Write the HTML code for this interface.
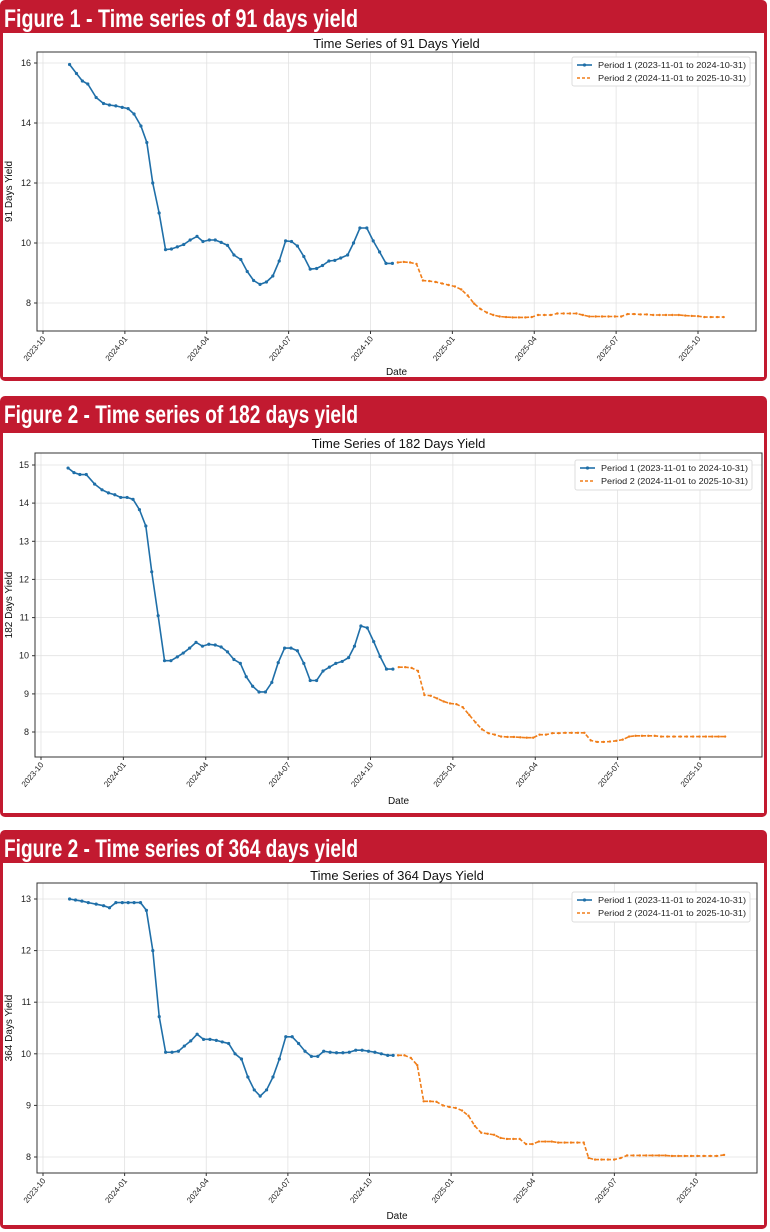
<!DOCTYPE html>
<html><head><meta charset="utf-8">
<style>
html,body{margin:0;padding:0;background:#fff;width:770px;height:1232px;overflow:hidden}
svg{display:block}
</style></head>
<body>
<svg id="s" width="770" height="1232" xmlns="http://www.w3.org/2000/svg" font-family="Liberation Sans, sans-serif"></svg>
<script>
const S=document.getElementById('s');
let out='';
const P=[
 {top:0,bot:381,band:33,head:'Figure 1 - Time series of 91 days yield',title:'Time Series of 91 Days Yield',ylab:'91 Days Yield',
  ax:{l:37,r:756,t:52,b:331},titleY:48,dateY:375,
  yt:[[16,63],[14,123],[12,183],[10,243],[8,303]],
  xt0:43,xt1:698,z0:87,z1:1418,leg:[572,57,750,86],
  p1:[[141,15.95],[155,15.65],[167,15.4],[178,15.3],[195,14.85],[210,14.65],[222,14.6],[235,14.57],[248,14.52],[260,14.48],[272,14.3],[286,13.9],[298,13.35],[310,12.0],[323,11.0],[336,9.78],[348,9.8],[360,9.87],[373,9.95],[386,10.1],[400,10.22],[412,10.05],[425,10.1],[437,10.1],[449,10.02],[462,9.92],[475,9.6],[489,9.45],[502,9.05],[515,8.75],[528,8.62],[541,8.7],[554,8.9],[567,9.4],[580,10.07],[592,10.05],[604,9.9],[617,9.55],[630,9.13],[643,9.15],[655,9.25],[668,9.4],[680,9.42],[692,9.5],[706,9.6],[718,10.0],[731,10.5],[745,10.5],[758,10.07],[771,9.7],[784,9.32],[797,9.32]],
  p2:[[808,9.35],[820,9.37],[833,9.35],[846,9.3],[859,8.75],[872,8.73],[885,8.7],[898,8.65],[911,8.6],[924,8.55],[937,8.45],[950,8.25],[963,7.98],[976,7.8],[989,7.68],[1002,7.6],[1015,7.55],[1028,7.53],[1041,7.52],[1054,7.52],[1067,7.52],[1080,7.53],[1093,7.6],[1106,7.6],[1119,7.6],[1132,7.65],[1145,7.65],[1158,7.65],[1171,7.65],[1184,7.6],[1197,7.55],[1210,7.55],[1223,7.55],[1236,7.55],[1249,7.55],[1262,7.55],[1275,7.63],[1288,7.63],[1301,7.62],[1314,7.62],[1327,7.6],[1340,7.6],[1353,7.6],[1366,7.6],[1379,7.6],[1392,7.58],[1405,7.57],[1418,7.56],[1431,7.53],[1444,7.53],[1457,7.53],[1470,7.53]]},
 {top:396,bot:817,band:433,head:'Figure 2 - Time series of 182 days yield',title:'Time Series of 182 Days Yield',ylab:'182 Days Yield',
  ax:{l:35,r:762,t:453,b:757},titleY:448,dateY:804,
  yt:[[15,465],[14,503.1],[13,541.3],[12,579.4],[11,617.6],[10,655.7],[9,693.9],[8,732]],
  xt0:41,xt1:700,z0:83,z1:1422,leg:[575,460,752,490],
  p1:[[138,14.92],[150,14.8],[162,14.75],[175,14.75],[192,14.5],[207,14.35],[220,14.27],[233,14.22],[245,14.15],[258,14.15],[270,14.1],[283,13.83],[296,13.4],[308,12.2],[321,11.05],[334,9.87],[347,9.87],[360,9.97],[372,10.07],[385,10.2],[398,10.35],[411,10.25],[424,10.3],[437,10.28],[449,10.23],[462,10.1],[475,9.9],[488,9.8],[500,9.45],[513,9.2],[526,9.05],[539,9.05],[552,9.3],[565,9.82],[578,10.2],[591,10.2],[604,10.13],[617,9.8],[630,9.35],[643,9.35],[656,9.6],[669,9.7],[682,9.8],[695,9.85],[708,9.95],[720,10.25],[733,10.78],[746,10.73],[759,10.37],[772,9.98],[785,9.65],[798,9.65]],
  p2:[[810,9.7],[823,9.7],[836,9.68],[849,9.6],[862,8.97],[875,8.95],[888,8.88],[901,8.8],[914,8.75],[927,8.73],[940,8.65],[953,8.45],[966,8.25],[979,8.07],[992,7.97],[1005,7.93],[1018,7.88],[1031,7.87],[1044,7.87],[1057,7.86],[1070,7.85],[1083,7.85],[1096,7.93],[1109,7.93],[1122,7.97],[1135,7.97],[1148,7.98],[1161,7.98],[1174,7.98],[1187,7.98],[1200,7.78],[1213,7.74],[1226,7.74],[1239,7.75],[1252,7.77],[1265,7.8],[1278,7.88],[1291,7.9],[1304,7.9],[1317,7.9],[1330,7.9],[1343,7.88],[1356,7.88],[1369,7.88],[1382,7.88],[1395,7.88],[1408,7.88],[1421,7.88],[1434,7.88],[1447,7.88],[1460,7.88],[1473,7.88]]},
 {top:830,bot:1229,band:863,head:'Figure 2 - Time series of 364 days yield',title:'Time Series of 364 Days Yield',ylab:'364 Days Yield',
  ax:{l:37,r:757,t:883,b:1173},titleY:880,dateY:1219,
  yt:[[13,899],[12,950.6],[11,1002.2],[10,1053.8],[9,1105.4],[8,1157]],
  xt0:43,xt1:696,z0:87,z1:1413,leg:[572,892,750,922],
  p1:[[141,13.0],[153,12.98],[166,12.96],[179,12.93],[195,12.9],[210,12.87],[222,12.83],[235,12.93],[248,12.93],[260,12.93],[272,12.93],[285,12.93],[297,12.78],[310,12.0],[323,10.72],[336,10.03],[349,10.03],[362,10.05],[374,10.15],[387,10.25],[400,10.38],[413,10.28],[426,10.28],[439,10.26],[451,10.23],[464,10.2],[477,10.0],[490,9.9],[503,9.55],[516,9.3],[528,9.18],[541,9.3],[554,9.55],[567,9.9],[580,10.33],[593,10.33],[606,10.2],[619,10.05],[632,9.95],[645,9.95],[657,10.05],[670,10.03],[683,10.02],[696,10.02],[709,10.03],[722,10.07],[735,10.07],[748,10.05],[761,10.03],[774,10.0],[787,9.97],[798,9.97]],
  p2:[[808,9.97],[821,9.97],[834,9.92],[847,9.78],[860,9.08],[873,9.08],[886,9.07],[899,9.0],[912,8.97],[925,8.95],[938,8.9],[951,8.8],[964,8.6],[977,8.47],[990,8.45],[1003,8.43],[1016,8.37],[1029,8.35],[1042,8.35],[1055,8.35],[1068,8.25],[1081,8.25],[1094,8.3],[1107,8.3],[1120,8.3],[1133,8.28],[1146,8.28],[1159,8.28],[1172,8.28],[1185,8.28],[1195,7.98],[1208,7.95],[1221,7.95],[1234,7.95],[1247,7.95],[1260,7.98],[1273,8.03],[1286,8.03],[1299,8.03],[1312,8.03],[1325,8.03],[1338,8.03],[1351,8.03],[1364,8.02],[1377,8.02],[1390,8.02],[1403,8.02],[1416,8.02],[1429,8.02],[1442,8.02],[1455,8.02],[1470,8.04]]}
];
const xl=['2023-10','2024-01','2024-04','2024-07','2024-10','2025-01','2025-04','2025-07','2025-10'];
for(const p of P){
  out+=`<rect x="0" y="${p.top}" width="767" height="${p.bot-p.top}" rx="5" fill="#c21a30"/>`;
  out+=`<rect x="3" y="${p.band}" width="761" height="${p.bot-p.band-4}" fill="#fff"/>`;
  out+=`<text x="4" y="${p.top+27}" fill="#fff" font-family="Liberation Sans Narrow, Liberation Sans, sans-serif" font-weight="bold" font-size="25" textLength="${p.head.length>40?370:354}" lengthAdjust="spacingAndGlyphs">${p.head}</text>`;
  const a=p.ax;
  const yv=p.yt; const v0=yv[0][0],y0=yv[0][1],v1=yv[yv.length-1][0],y1=yv[yv.length-1][1];
  const Y=v=>y0+(v-v0)*(y1-y0)/(v1-v0);
  const X=z=>p.xt0+(z-p.z0)*(p.xt1-p.xt0)/(p.z1-p.z0);
  // grid
  for(const [v,y] of yv){out+=`<line x1="${a.l}" x2="${a.r}" y1="${y}" y2="${y}" stroke="#e2e2e2" stroke-width="0.8"/>`;
    out+=`<line x1="${a.l-3}" x2="${a.l}" y1="${y}" y2="${y}" stroke="#333"/>`;
    out+=`<text x="${a.l-6}" y="${y+3}" font-size="9" text-anchor="end" fill="#222">${v}</text>`;}
  for(let i=0;i<9;i++){const x=p.xt0+i*(p.xt1-p.xt0)/8;
    out+=`<line x1="${x}" x2="${x}" y1="${a.t}" y2="${a.b}" stroke="#e2e2e2" stroke-width="0.8"/>`;
    out+=`<line x1="${x}" x2="${x}" y1="${a.b}" y2="${a.b+3}" stroke="#333"/>`;
    out+=`<text transform="translate(${x+3},${a.b+8}) rotate(-50)" font-size="8" text-anchor="end" fill="#222">${xl[i]}</text>`;}
  out+=`<rect x="${a.l}" y="${a.t}" width="${a.r-a.l}" height="${a.b-a.t}" fill="none" stroke="#333" stroke-width="1"/>`;
  out+=`<text x="${(a.l+a.r)/2}" y="${p.titleY}" font-size="13" text-anchor="middle" fill="#111">${p.title}</text>`;
  out+=`<text x="${(a.l+a.r)/2}" y="${p.dateY}" font-size="10" text-anchor="middle" fill="#111">Date</text>`;
  out+=`<text transform="translate(12,${(a.t+a.b)/2}) rotate(-90)" font-size="10" text-anchor="middle" fill="#111">${p.ylab}</text>`;
  const pts1=p.p1.map(d=>[X(d[0]),Y(d[1])]),pts2=p.p2.map(d=>[X(d[0]),Y(d[1])]);
  out+=`<polyline points="${pts1.map(q=>q.join(',')).join(' ')}" fill="none" stroke="#1f6fa8" stroke-width="1.6"/>`;
  for(const q of pts1)out+=`<circle cx="${q[0]}" cy="${q[1]}" r="1.6" fill="#1f6fa8"/>`;
  out+=`<polyline points="${pts2.map(q=>q.join(',')).join(' ')}" fill="none" stroke="#f07e1a" stroke-width="1.6" stroke-dasharray="4,2"/>`;
  for(const q of pts2)out+=`<circle cx="${q[0]}" cy="${q[1]}" r="1.2" fill="#f07e1a"/>`;
  const L=p.leg;
  out+=`<rect x="${L[0]}" y="${L[1]}" width="${L[2]-L[0]}" height="${L[3]-L[1]}" fill="#fff" stroke="#ddd" rx="2"/>`;
  const ly1=L[1]+8,ly2=L[1]+21;
  out+=`<line x1="${L[0]+5}" x2="${L[0]+20}" y1="${ly1}" y2="${ly1}" stroke="#1f6fa8" stroke-width="1.6"/><circle cx="${L[0]+12.5}" cy="${ly1}" r="1.6" fill="#1f6fa8"/>`;
  out+=`<line x1="${L[0]+5}" x2="${L[0]+20}" y1="${ly2}" y2="${ly2}" stroke="#f07e1a" stroke-width="1.6" stroke-dasharray="3,2"/>`;
  out+=`<text x="${L[0]+26}" y="${ly1+3}" font-size="8" fill="#222" textLength="${L[2]-L[0]-30}" lengthAdjust="spacingAndGlyphs">Period 1 (2023-11-01 to 2024-10-31)</text>`;
  out+=`<text x="${L[0]+26}" y="${ly2+3}" font-size="8" fill="#222" textLength="${L[2]-L[0]-30}" lengthAdjust="spacingAndGlyphs">Period 2 (2024-11-01 to 2025-10-31)</text>`;
}
S.innerHTML=out;
</script>
</body></html>
